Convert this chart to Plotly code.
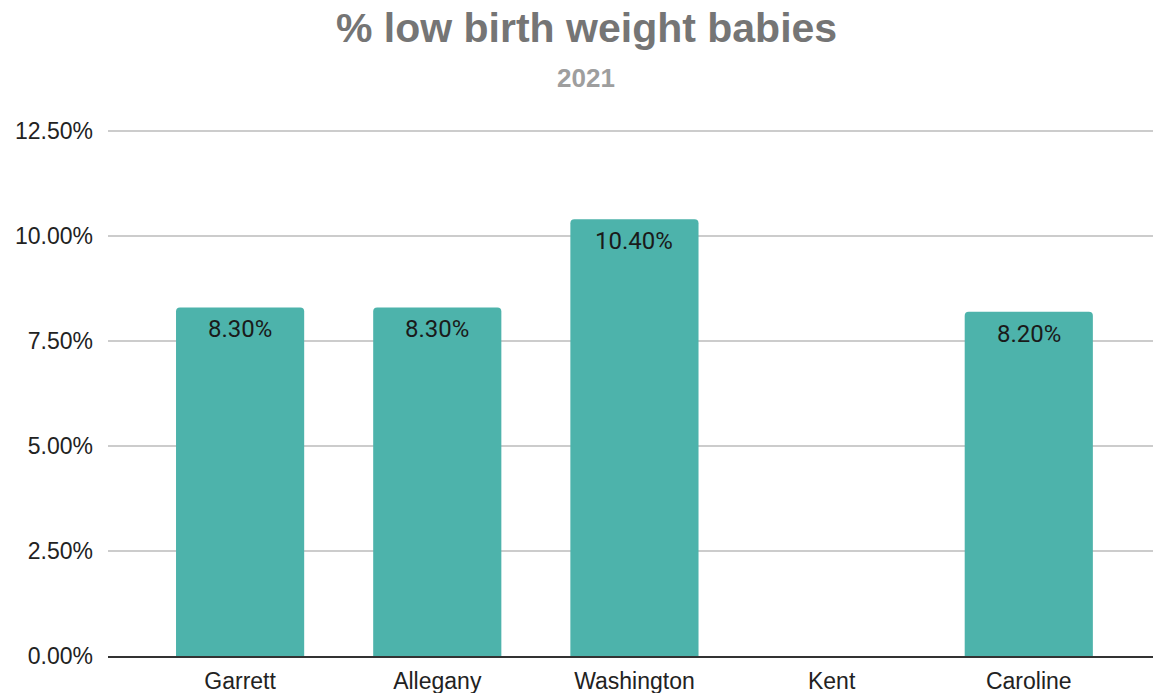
import plotly.graph_objects as go

counties = ["Garrett", "Allegany", "Washington", "Kent", "Caroline"]
pct_low_birth_weight = [0.083, 0.083, 0.104, None, 0.082]
y_ticks = [0, 0.025, 0.05, 0.075, 0.10, 0.125]

Y_MAX = 0.1255
PX_PER_UNIT = 525 / 0.125
plot_h = PX_PER_UNIT * Y_MAX
bottom = 37
top = 693 - bottom - plot_h

fig = go.Figure()
fig.add_trace(go.Bar(
    x=counties,
    y=pct_low_birth_weight,
    marker=dict(color="#4db3ab", cornerradius=4, line=dict(width=0)),
    width=0.65,
    hoverinfo="x+y",
))

labels = []
for c, v in zip(counties, pct_low_birth_weight):
    if v is None:
        continue
    labels.append(dict(
        x=c, y=v, xref="x", yref="y", text=f"{v*100:.2f}%",
        showarrow=False, yanchor="middle", yshift=-22,
        font=dict(family="Roboto, Arial, sans-serif", size=24, color="#1a1a1a"),
    ))

title_x = (586 - 108) / 1045

fig.update_layout(
    width=1153, height=693,
    margin=dict(l=108, r=0, t=top, b=bottom),
    paper_bgcolor="white", plot_bgcolor="white",
    showlegend=False,
    font=dict(family="Liberation Sans, Arial, sans-serif"),
    annotations=labels + [
        dict(text="<b>% low birth weight babies</b>", xref="paper", yref="paper",
             x=title_x, y=1 + (top - 28) / plot_h, xanchor="center", yanchor="middle",
             showarrow=False, font=dict(size=41, color="#757575", family="Liberation Sans, Arial, sans-serif")),
        dict(text="<b>2021</b>", xref="paper", yref="paper",
             x=title_x, y=1 + (top - 78) / plot_h, xanchor="center", yanchor="middle",
             showarrow=False, font=dict(size=26, color="#9e9e9e", family="Liberation Sans, Arial, sans-serif")),
    ],
)
fig.update_xaxes(
    range=[-0.67, 4.63],
    showgrid=False,
    showline=True, linecolor="#333333", linewidth=1.5,
    ticks="", tickfont=dict(size=23, color="#222222"),
    ticklabelstandoff=4,
)
fig.update_yaxes(
    range=[0, Y_MAX],
    tickvals=y_ticks,
    tickformat=".2%",
    showgrid=True, gridcolor="#cccccc", gridwidth=1.5,
    zeroline=False,
    ticks="", tickfont=dict(size=23, color="#222222"),
    ticklabelstandoff=14,
)

fig.write_html("out.html", config={"displayModeBar": False},
               post_script="document.body.style.margin='0';document.body.style.overflow='hidden';")
